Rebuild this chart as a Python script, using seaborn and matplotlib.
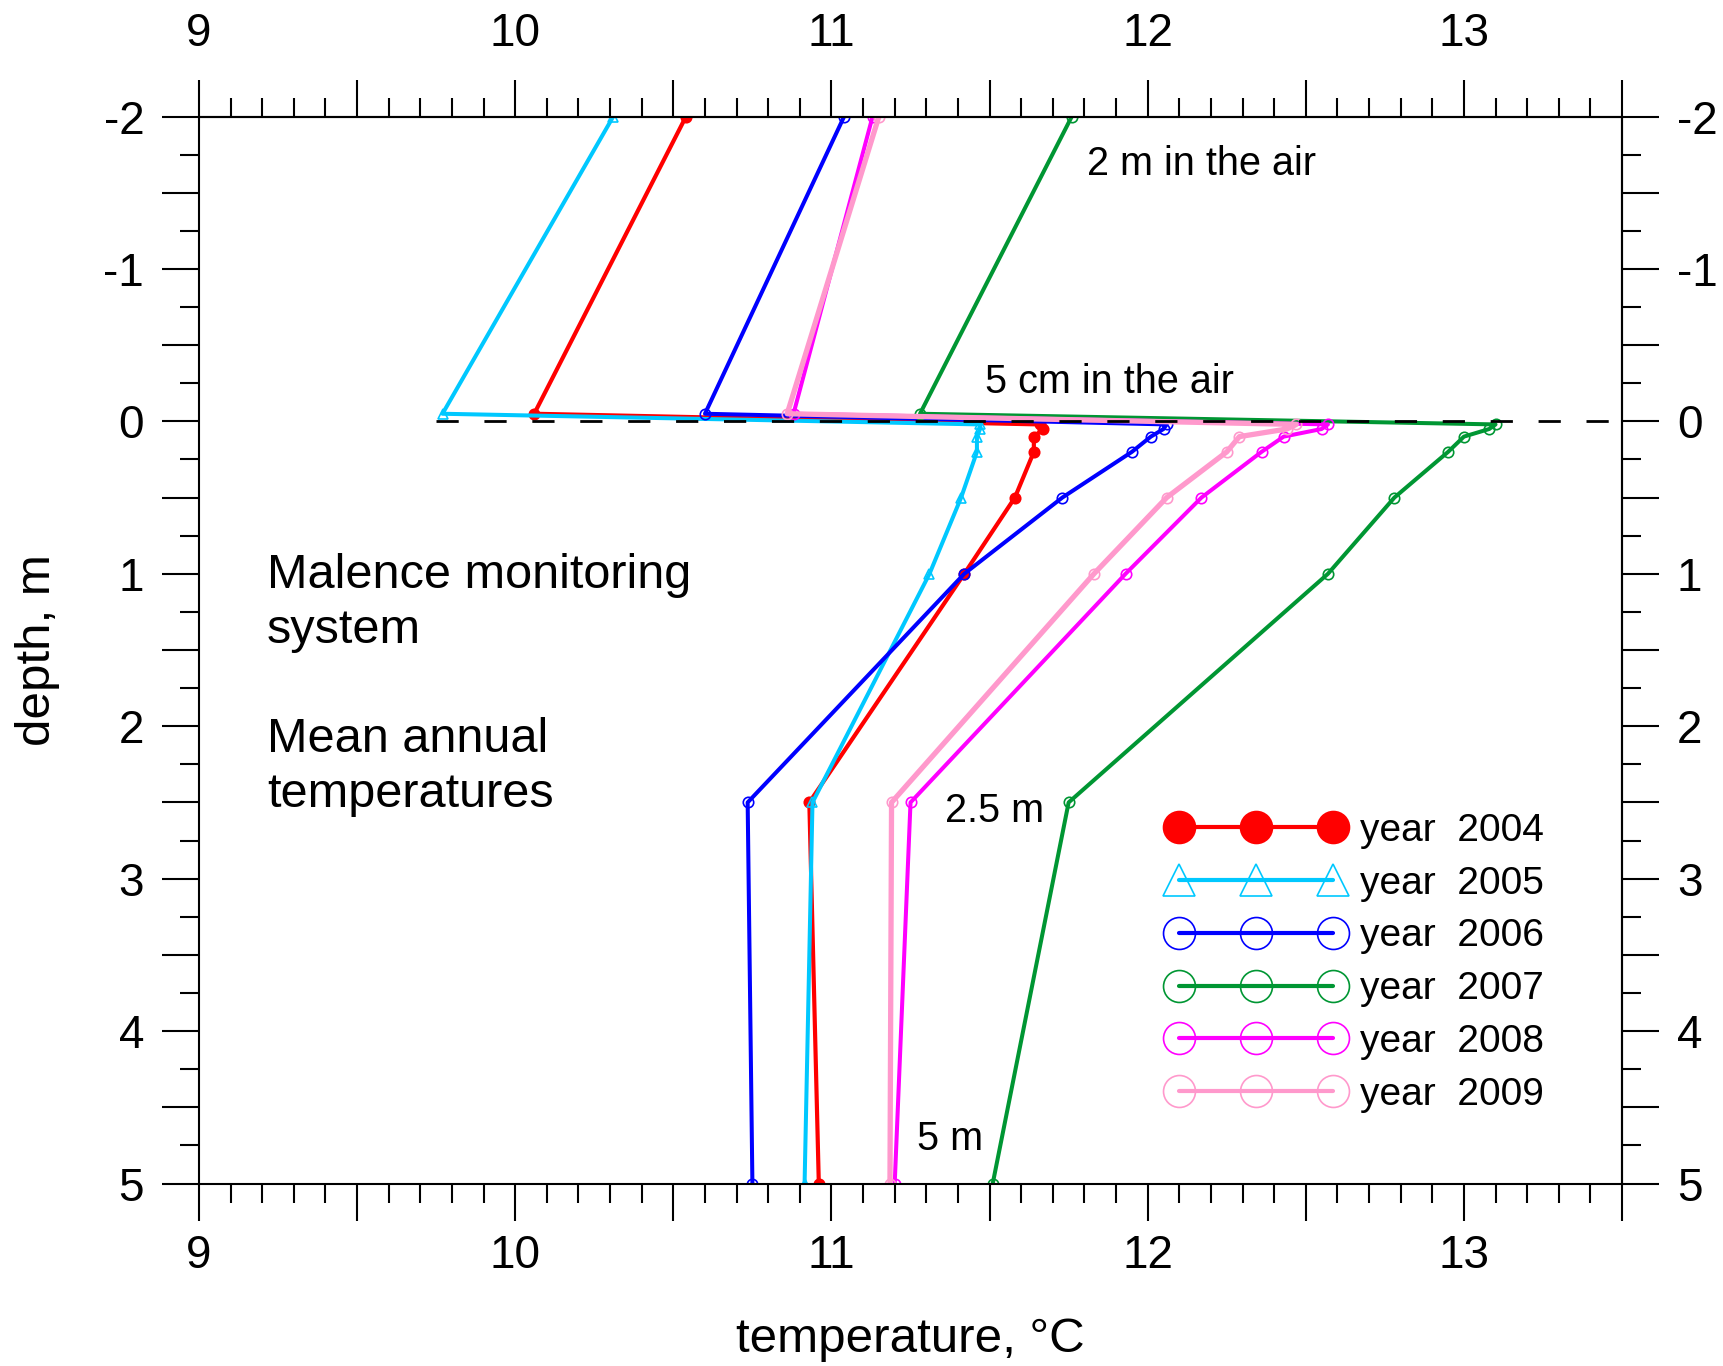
import pandas as pd
import seaborn as sns
import matplotlib
matplotlib.use('Agg')
import matplotlib.pyplot as plt
from matplotlib.lines import Line2D
from matplotlib.ticker import MultipleLocator, FuncFormatter

# profundidades (m): -2 y -0.05 son en el aire, el resto en el suelo
depth = [-2.0, -0.05, 0.02, 0.05, 0.1, 0.2, 0.5, 1.0, 2.5, 5.0]

years = ['2004', '2005', '2006', '2007', '2008', '2009']
t2004 = [10.54, 10.06, 11.66, 11.67, 11.64, 11.64, 11.58, 11.42, 10.93, 10.96]
t2005 = [10.31, 9.77, 11.47, 11.47, 11.46, 11.46, 11.41, 11.31, 10.94, 10.915]
t2006 = [11.04, 10.60, 12.06, 12.05, 12.01, 11.95, 11.73, 11.42, 10.735, 10.75]
t2007 = [11.76, 11.28, 13.10, 13.08, 13.00, 12.95, 12.78, 12.57, 11.75, 11.51]
t2008 = [11.13, 10.88, 12.57, 12.55, 12.43, 12.36, 12.17, 11.93, 11.25, 11.20]
t2009 = [11.15, 10.86, 12.47, 12.44, 12.29, 12.25, 12.06, 11.83, 11.19, 11.185]

colors = ['#ff0000', '#00c8ff', '#0000ff', '#009633', '#ff00ff', '#ff99cc']
markers = ['o', '^', 'o', 'o', 'o', 'o']
filled = [True, False, False, False, False, False]
widths = [3.0, 2.9, 2.9, 2.9, 2.9, 3.8]

dash_start = 9.75  # donde arranca la linea de superficie

temps = [t2004, t2005, t2006, t2007, t2008, t2009]
df = pd.DataFrame({
    'year': [y for y, t in zip(years, temps) for _ in t],
    'temp': [v for t in temps for v in t],
    'depth': depth * len(years),
})

sns.set_style('ticks')
plt.rcParams['font.family'] = ['Liberation Sans', 'DejaVu Sans']
plt.rcParams['lines.scale_dashes'] = False
for k in ['text.color', 'axes.labelcolor', 'xtick.color', 'ytick.color', 'axes.edgecolor']:
    plt.rcParams[k] = 'black'

fig = plt.figure(figsize=(17.23, 13.66), dpi=100)
ax = fig.add_axes([0.1155, 0.1336, 0.8259, 0.7811])

for y, c, m, f, lw in zip(years, colors, markers, filled, widths):
    sub = df[df['year'] == y]
    sns.lineplot(data=sub, x='temp', y='depth', sort=False, estimator=None,
                 color=c, linewidth=lw, marker=m, markersize=7.5,
                 markerfacecolor=c if f else 'none', markeredgecolor=c,
                 markeredgewidth=1.2, legend=False, ax=ax)

# linea de superficie
ax.axhline(0, xmin=(dash_start - 9) / 4.5, xmax=1, color='black', lw=2,
           dashes=(16, 18.5), zorder=10)

ax.set_xlim(9, 13.5)
ax.set_ylim(5, -2)

def int_only(v, pos):
    return f'{v:.0f}' if abs(v - round(v)) < 1e-6 else ''

tick_kw = dict(direction='out', width=1.5, colors='black', labelsize=33)

ax.xaxis.set_major_locator(MultipleLocator(0.5))
ax.xaxis.set_minor_locator(MultipleLocator(0.1))
ax.xaxis.set_major_formatter(FuncFormatter(int_only))
ax.yaxis.set_major_locator(MultipleLocator(0.5))
ax.yaxis.set_minor_locator(MultipleLocator(0.25))
ax.yaxis.set_major_formatter(FuncFormatter(int_only))
ax.tick_params(axis='x', which='major', length=26.5, pad=10, bottom=True, **tick_kw)
ax.tick_params(axis='x', which='minor', length=13.5, bottom=True, **tick_kw)
ax.tick_params(axis='y', which='major', length=26.5, pad=13, left=True, **tick_kw)
ax.tick_params(axis='y', which='minor', length=13.5, left=True, **tick_kw)

# ejes de arriba y derecha
secx = ax.secondary_xaxis('top')
secx.xaxis.set_major_locator(MultipleLocator(0.5))
secx.xaxis.set_minor_locator(MultipleLocator(0.1))
secx.xaxis.set_major_formatter(FuncFormatter(int_only))
secx.tick_params(which='major', length=26.5, pad=17, **tick_kw)
secx.tick_params(which='minor', length=13.5, **tick_kw)

secy = ax.secondary_yaxis('right')
secy.yaxis.set_major_locator(MultipleLocator(0.5))
secy.yaxis.set_minor_locator(MultipleLocator(0.25))
secy.yaxis.set_major_formatter(FuncFormatter(int_only))
secy.tick_params(which='major', length=26.5, pad=13, **tick_kw)
secy.tick_params(which='minor', length=13.5, **tick_kw)

for a in (ax, secx, secy):
    for s in a.spines.values():
        s.set_linewidth(1.5)
        s.set_color('black')

ax.set_xlabel('temperature, °C', fontsize=35.5)
ax.set_ylabel('depth, m', fontsize=35.5)
ax.xaxis.set_label_coords(0.5, -0.125)
ax.yaxis.set_label_coords(-0.098, 0.5)

# textos
ax.text(11.808, -1.616, '2 m in the air', fontsize=28.5, va='baseline')
ax.text(11.486, -0.186, '5 cm in the air', fontsize=28.5, va='baseline')
ax.text(11.359, 2.628, '2.5 m', fontsize=28.5, va='baseline')
ax.text(11.270, 4.780, '5 m', fontsize=28.5, va='baseline')
ax.text(9.215, 1.454, 'Malence monitoring\nsystem', fontsize=35,
        va='baseline', linespacing=1.28)
ax.text(9.215, 2.53, 'Mean annual\ntemperatures', fontsize=35,
        va='baseline', linespacing=1.28)

handles = []
for y, c, m, f in zip(years, colors, markers, filled):
    handles.append(Line2D([], [], color=c, lw=3.0, marker=m, markersize=23,
                          markerfacecolor=c if f else 'none',
                          markeredgecolor=c, markeredgewidth=1.2))
ax.legend(handles, [f'year  {y}' for y in years], loc='upper left',
          bbox_to_anchor=(0.6773, 0.4048), bbox_transform=fig.transFigure,
          frameon=False, fontsize=28, numpoints=3, handlelength=4.58,
          handletextpad=0.39, labelspacing=0.43, borderpad=0, borderaxespad=0)

fig.savefig('out.png', dpi=100)
